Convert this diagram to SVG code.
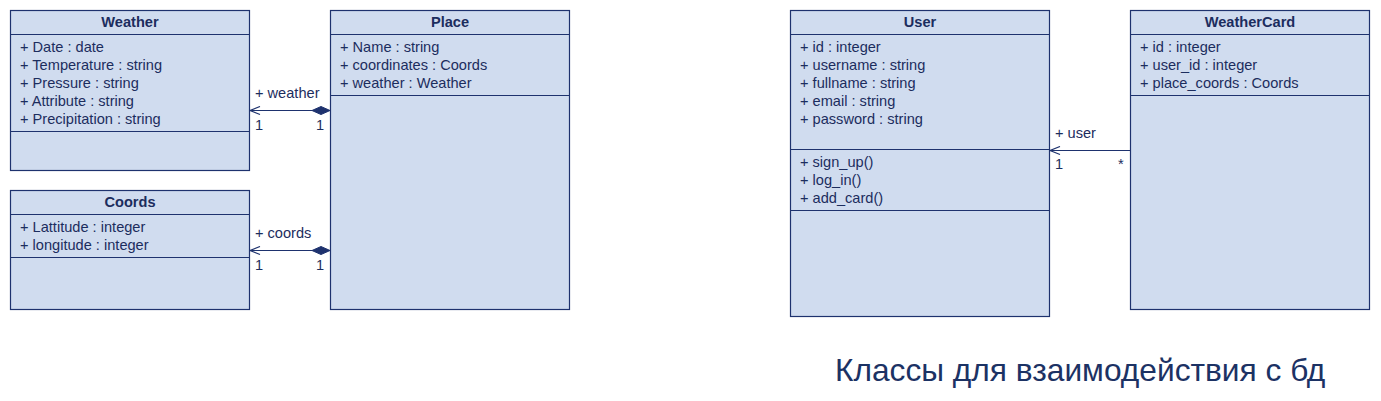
<svg xmlns="http://www.w3.org/2000/svg" width="1381" height="401" viewBox="0 0 1381 401">
<style>
.box{fill:#d0dcef;stroke:#1e326e;stroke-width:1.2}
.ln{stroke:#1e326e;stroke-width:1.2;fill:none}
text{font-family:"Liberation Sans",Arial,sans-serif;font-size:14.6px;fill:#1c2d5e}
.h{font-weight:bold;text-anchor:middle}
.t{font-size:31.7px;fill:#1c3264}
</style>
<defs>
<marker id="open" markerWidth="12" markerHeight="12" refX="1" refY="5" orient="auto" markerUnits="userSpaceOnUse">
<path d="M11,1 L1,5 L11,9" fill="none" stroke="#1e326e" stroke-width="1.2"/>
</marker>
</defs>
<rect width="1381" height="401" fill="#fff"/>
<g id="Weather">
<rect class="box" x="10.5" y="10.5" width="239" height="160"/>
<line class="ln" x1="10.5" y1="34.5" x2="249.5" y2="34.5"/>
<line class="ln" x1="10.5" y1="131.5" x2="249.5" y2="131.5"/>
<text class="h" x="130" y="27">Weather</text>
<text x="20" y="52">+ Date : date</text>
<text x="20" y="70">+ Temperature : string</text>
<text x="20" y="88">+ Pressure : string</text>
<text x="20" y="106">+ Attribute : string</text>
<text x="20" y="124">+ Precipitation : string</text>
</g>
<g id="Coords">
<rect class="box" x="10.5" y="190.5" width="239" height="119"/>
<line class="ln" x1="10.5" y1="214.5" x2="249.5" y2="214.5"/>
<line class="ln" x1="10.5" y1="257.5" x2="249.5" y2="257.5"/>
<text class="h" x="130" y="207">Coords</text>
<text x="20" y="232">+ Lattitude : integer</text>
<text x="20" y="250">+ longitude : integer</text>
</g>
<g id="Place">
<rect class="box" x="330.5" y="10.5" width="239" height="299"/>
<line class="ln" x1="330.5" y1="34.5" x2="569.5" y2="34.5"/>
<line class="ln" x1="330.5" y1="95.5" x2="569.5" y2="95.5"/>
<text class="h" x="450" y="27">Place</text>
<text x="340" y="52">+ Name : string</text>
<text x="340" y="70">+ coordinates : Coords</text>
<text x="340" y="88">+ weather : Weather</text>
</g>
<g id="User">
<rect class="box" x="790.5" y="10.5" width="259" height="306"/>
<line class="ln" x1="790.5" y1="34.5" x2="1049.5" y2="34.5"/>
<line class="ln" x1="790.5" y1="149.5" x2="1049.5" y2="149.5"/>
<line class="ln" x1="790.5" y1="210.5" x2="1049.5" y2="210.5"/>
<text class="h" x="920" y="27">User</text>
<text x="800" y="52">+ id : integer</text>
<text x="800" y="70">+ username : string</text>
<text x="800" y="88">+ fullname : string</text>
<text x="800" y="106">+ email : string</text>
<text x="800" y="124">+ password : string</text>
<text x="800" y="167">+ sign_up()</text>
<text x="800" y="185">+ log_in()</text>
<text x="800" y="203">+ add_card()</text>
</g>
<g id="WeatherCard">
<rect class="box" x="1130.5" y="10.5" width="239" height="299"/>
<line class="ln" x1="1130.5" y1="34.5" x2="1369.5" y2="34.5"/>
<line class="ln" x1="1130.5" y1="95.5" x2="1369.5" y2="95.5"/>
<text class="h" x="1250" y="27">WeatherCard</text>
<text x="1140" y="52">+ id : integer</text>
<text x="1140" y="70">+ user_id : integer</text>
<text x="1140" y="88">+ place_coords : Coords</text>
</g>
<g id="connectors">
<line class="ln" x1="250" y1="110.5" x2="312" y2="110.5" marker-start="url(#open)"/>
<path d="M330,110.5 L321,106.5 L312,110.5 L321,114.5 Z" fill="#1e326e" stroke="#1e326e" stroke-width="1"/>
<text x="255" y="98">+ weather</text>
<text x="255" y="130">1</text>
<text x="316" y="130">1</text>
<line class="ln" x1="250" y1="250.5" x2="312" y2="250.5" marker-start="url(#open)"/>
<path d="M330,250.5 L321,246.5 L312,250.5 L321,254.5 Z" fill="#1e326e" stroke="#1e326e" stroke-width="1"/>
<text x="255" y="238">+ coords</text>
<text x="255" y="270">1</text>
<text x="316" y="270">1</text>
<line class="ln" x1="1050" y1="150.5" x2="1130" y2="150.5" marker-start="url(#open)"/>
<text x="1055" y="138">+ user</text>
<text x="1055" y="169">1</text>
<text x="1118" y="169" font-size="12">*</text>
</g>
<text class="t" x="835" y="381">Классы для взаимодействия с бд</text>
</svg>
